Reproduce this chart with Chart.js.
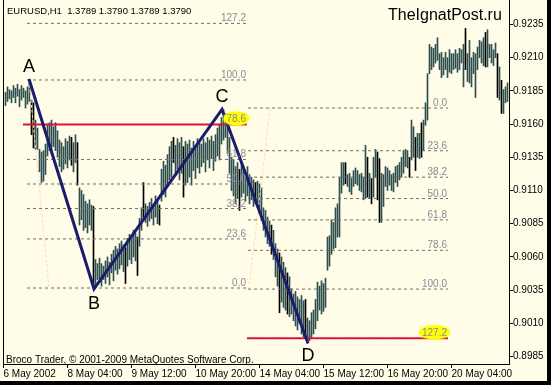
<!DOCTYPE html>
<html>
<head>
<meta charset="utf-8">
<script src="https://cdn.jsdelivr.net/npm/chart.js@4"></script>
<style>
  html, body { margin: 0; padding: 0; background: #000; }
  canvas { display: block; }
</style>
</head>
<body>
<canvas id="chart" width="547" height="381"></canvas>
<script>
;(function () {
    'use strict';

    // EURUSD H1 bars (index 0 = first bar on the left)
    var highs = [
        0.9184, 0.9188, 0.9186, 0.9185, 0.9189, 0.9187, 0.9190, 0.9186, 0.9189, 0.9187,
        0.9185, 0.9188, 0.9193, 0.9178, 0.9176, 0.9163, 0.9157, 0.9141, 0.9139, 0.9140,
        0.9145, 0.9160, 0.9161, 0.9163, 0.9158, 0.9161, 0.9155, 0.9148, 0.9146, 0.9143,
        0.9149, 0.9147, 0.9151, 0.9150, 0.9146, 0.9152, 0.9146, 0.9112, 0.9110, 0.9107,
        0.9102, 0.9100, 0.9103, 0.9099, 0.9098, 0.9058, 0.9055, 0.9059, 0.9055, 0.9053,
        0.9057, 0.9060, 0.9056, 0.9062, 0.9065, 0.9068, 0.9066, 0.9070, 0.9072, 0.9069,
        0.9067, 0.9074, 0.9077, 0.9075, 0.9080, 0.9078, 0.9075, 0.9089, 0.9097, 0.9116,
        0.9100, 0.9098, 0.9101, 0.9104, 0.9099, 0.9106, 0.9103, 0.9099, 0.9126, 0.9132,
        0.9129, 0.9137, 0.9143, 0.9147, 0.9150, 0.9144, 0.9149, 0.9146, 0.9150, 0.9143,
        0.9147, 0.9145, 0.9148, 0.9142, 0.9147, 0.9144, 0.9149, 0.9146, 0.9145, 0.9149,
        0.9146, 0.9150, 0.9148, 0.9151, 0.9147, 0.9152, 0.9157, 0.9160, 0.9165, 0.9171,
        0.9168, 0.9162, 0.9150, 0.9135, 0.9133, 0.9128, 0.9131, 0.9126, 0.9130, 0.9127,
        0.9124, 0.9128, 0.9122, 0.9120, 0.9118, 0.9116, 0.9117, 0.9115, 0.9112, 0.9097,
        0.9095, 0.9090, 0.9087, 0.9084, 0.9080, 0.9070, 0.9066, 0.9063, 0.9060, 0.9056,
        0.9052, 0.9048, 0.9045, 0.9036, 0.9032, 0.9034, 0.9030, 0.9028, 0.9031, 0.9027,
        0.9028, 0.9014, 0.9012, 0.9018, 0.9020, 0.9028, 0.9041, 0.9038, 0.9042, 0.9040,
        0.9044, 0.9075, 0.9076, 0.9088, 0.9086, 0.9097, 0.9100, 0.9120, 0.9131, 0.9131,
        0.9131, 0.9122, 0.9123, 0.9119, 0.9125, 0.9127, 0.9125, 0.9122, 0.9123, 0.9120,
        0.9144, 0.9135, 0.9123, 0.9119, 0.9135, 0.9141, 0.9139, 0.9134, 0.9123, 0.9122,
        0.9128, 0.9127, 0.9125, 0.9122, 0.9123, 0.9128, 0.9129, 0.9131, 0.9135, 0.9140,
        0.9141, 0.9140, 0.9135, 0.9163, 0.9158, 0.9150, 0.9153, 0.9153, 0.9161, 0.9163,
        0.9176, 0.9198, 0.9220, 0.9218, 0.9217, 0.9220, 0.9225, 0.9213, 0.9214, 0.9210,
        0.9214, 0.9210, 0.9216, 0.9213, 0.9213, 0.9216, 0.9213, 0.9217, 0.9216, 0.9220,
        0.9232, 0.9213, 0.9223, 0.9210, 0.9214, 0.9213, 0.9218, 0.9223, 0.9222, 0.9225,
        0.9229, 0.9231, 0.9220, 0.9220, 0.9216, 0.9221, 0.9213, 0.9203, 0.9193, 0.9186,
        0.9188, 0.9191
    ];
    var lows = [
        0.9174, 0.9177, 0.9179, 0.9176, 0.9180, 0.9176, 0.9181, 0.9173, 0.9178, 0.9180,
        0.9172, 0.9175, 0.9177, 0.9152, 0.9142, 0.9141, 0.9141, 0.9124, 0.9116, 0.9117,
        0.9122, 0.9136, 0.9140, 0.9138, 0.9143, 0.9140, 0.9135, 0.9128, 0.9124, 0.9126,
        0.9130, 0.9127, 0.9133, 0.9129, 0.9124, 0.9131, 0.9114, 0.9084, 0.9088, 0.9080,
        0.9082, 0.9078, 0.9084, 0.9080, 0.9037, 0.9039, 0.9043, 0.9041, 0.9038, 0.9043,
        0.9040, 0.9045, 0.9039, 0.9048, 0.9042, 0.9050, 0.9047, 0.9051, 0.9054, 0.9049,
        0.9040, 0.9053, 0.9058, 0.9055, 0.9060, 0.9057, 0.9046, 0.9068, 0.9080, 0.9090,
        0.9086, 0.9083, 0.9087, 0.9089, 0.9084, 0.9090, 0.9085, 0.9084, 0.9102, 0.9107,
        0.9105, 0.9114, 0.9118, 0.9120, 0.9131, 0.9121, 0.9126, 0.9118, 0.9123, 0.9105,
        0.9114, 0.9116, 0.9120, 0.9114, 0.9125, 0.9119, 0.9127, 0.9123, 0.9128, 0.9131,
        0.9124, 0.9133, 0.9127, 0.9134, 0.9125, 0.9132, 0.9136, 0.9133, 0.9145, 0.9148,
        0.9150, 0.9138, 0.9123, 0.9110, 0.9106, 0.9100, 0.9104, 0.9095, 0.9105, 0.9108,
        0.9102, 0.9106, 0.9100, 0.9103, 0.9098, 0.9100, 0.9097, 0.9093, 0.9092, 0.9080,
        0.9075, 0.9070, 0.9068, 0.9062, 0.9058, 0.9045, 0.9038, 0.9018, 0.9026, 0.9022,
        0.9020, 0.9017, 0.9015, 0.9017, 0.9012, 0.9008, 0.9005, 0.9010, 0.9002, 0.9000,
        0.8999, 0.8995, 0.8997, 0.8999, 0.9002, 0.9006, 0.9012, 0.9020, 0.9017, 0.9019,
        0.9022, 0.9050, 0.9053, 0.9062, 0.9066, 0.9067, 0.9075, 0.9075, 0.9108, 0.9114,
        0.9115, 0.9113, 0.9109, 0.9107, 0.9113, 0.9115, 0.9114, 0.9110, 0.9109, 0.9103,
        0.9104, 0.9105, 0.9104, 0.9100, 0.9105, 0.9120, 0.9103, 0.9086, 0.9086, 0.9098,
        0.9113, 0.9110, 0.9114, 0.9110, 0.9109, 0.9116, 0.9113, 0.9118, 0.9120, 0.9123,
        0.9128, 0.9127, 0.9120, 0.9133, 0.9135, 0.9125, 0.9135, 0.9134, 0.9135, 0.9140,
        0.9159, 0.9163, 0.9198, 0.9201, 0.9203, 0.9206, 0.9208, 0.9201, 0.9195, 0.9197,
        0.9201, 0.9195, 0.9199, 0.9198, 0.9201, 0.9202, 0.9199, 0.9201, 0.9206, 0.9188,
        0.9201, 0.9192, 0.9191, 0.9188, 0.9198, 0.9180, 0.9201, 0.9210, 0.9206, 0.9204,
        0.9203, 0.9203, 0.9210, 0.9206, 0.9204, 0.9210, 0.9180, 0.9178, 0.9168, 0.9168,
        0.9176, 0.9177
    ];
    // bars that closed lower (drawn black)
    var downBars = [13, 14, 33, 36, 44, 60, 66, 69, 77, 84, 89, 117, 125, 133, 137, 141,
        150, 170, 181, 183, 186, 187, 202, 205, 208, 230, 240, 246, 248];

    var xTickPos    = [-1, 31, 63, 95, 127, 159, 191, 223];
    var xTickLabels = ['6 May 2002', '8 May 04:00', '9 May 12:00', '10 May 20:00',
                       '14 May 04:00', '15 May 12:00', '16 May 20:00', '20 May 04:00'];
    var yTicks = [0.8985, 0.9010, 0.9035, 0.9060, 0.9085, 0.9110, 0.9135, 0.9160, 0.9185, 0.9210, 0.9235];

    // ABCD pattern points
    var abcdNames  = ['A', 'B', 'C', 'D'];
    var abcdIndex  = [11.75, 44.25, 108.25, 151.25];
    var abcdPrice  = [0.91939, 0.90360, 0.91710, 0.89951];

    // Fibonacci retracements: [start bar, end bar], [price at 0, price at 100]
    var fibLevels = [0, 23.6, 38.2, 50.0, 61.8, 78.6, 100.0, 127.2];
    var fib1Span  = [10.75, 120.75];
    var fib1Price = [0.90366, 0.91932];
    var fib1Trend = [11.75, 21.75];
    var fib2Span  = [121.25, 221.25];
    var fib2Price = [0.91721, 0.90358];
    var fib2Trend = [132.25, 121.75];

    // red horizontal lines: [start bar, end bar, price]
    var redLine1 = [8.75, 120.75, 0.91597];
    var redLine2 = [120.75, 221.25, 0.89987];

    var BG = '#FFFDE8';
    var FONT = '"Liberation Sans", Arial, sans-serif';

    function fibPrice(p, lvl) {
        return p[0] + (p[1] - p[0]) * lvl / 100;
    }

    function hline(span0, span1, price, color, width, dash, order) {
        return {
            type: 'line',
            data: [{x: span0, y: price}, {x: span1, y: price}],
            borderColor: color,
            borderWidth: width,
            borderDash: dash,
            pointRadius: 0,
            order: order
        };
    }

    var datasets = [{
        type: 'bar',
        data: highs.map(function (h, i) { return {x: i, y: [lows[i], h]}; }),
        backgroundColor: function (c) {
            return downBars.indexOf(c.dataIndex) >= 0 ? '#000000' : '#2F4F4F';
        },
        borderWidth: 0,
        barThickness: 1,
        grouped: false,
        order: 10
    }];

    fibLevels.forEach(function (lvl) {
        datasets.push(hline(fib1Span[0], fib1Span[1], fibPrice(fib1Price, lvl), '#6E6E6E', 1, [3, 3], 6));
        datasets.push(hline(fib2Span[0], fib2Span[1], fibPrice(fib2Price, lvl), '#6E6E6E', 1, [3, 3], 6));
    });

    datasets.push({
        type: 'line',
        data: [{x: fib1Trend[0], y: fib1Price[1]}, {x: fib1Trend[1], y: fib1Price[0]}],
        borderColor: '#FFD8B8', borderWidth: 1, borderDash: [3, 2], pointRadius: 0, order: 7
    });
    datasets.push({
        type: 'line',
        data: [{x: fib2Trend[0], y: fib2Price[0]}, {x: fib2Trend[1], y: fib2Price[1]}],
        borderColor: '#FFD8B8', borderWidth: 1, borderDash: [3, 2], pointRadius: 0, order: 7
    });

    datasets.push(hline(redLine1[0], redLine1[1], redLine1[2], '#DC143C', 2, [], 3));
    datasets.push(hline(redLine2[0], redLine2[1], redLine2[2], '#DC143C', 2, [], 3));

    datasets.push({
        type: 'line',
        data: abcdIndex.map(function (x, i) { return {x: x, y: abcdPrice[i]}; }),
        borderColor: '#1C1C6E',
        borderWidth: 3,
        pointRadius: 0,
        tension: 0,
        order: 1
    });

    var mtPlugin = {
        id: 'mt',
        beforeDraw: function (chart) {
            var ctx = chart.ctx;
            ctx.save();
            ctx.fillStyle = BG;
            ctx.fillRect(0, 0, chart.width, chart.height);
            ctx.strokeStyle = '#000';
            ctx.lineWidth = 1;
            ctx.beginPath();
            ctx.moveTo(3.5, 0);
            ctx.lineTo(3.5, chart.chartArea.bottom);
            ctx.stroke();
            ctx.restore();
        },
        afterDatasetsDraw: function (chart) {
            var ctx = chart.ctx, xs = chart.scales.x, ys = chart.scales.y;
            ctx.save();

            function fibLabels(span, prices, marked) {
                var px = xs.getPixelForValue(span[1]);
                ctx.font = '10px ' + FONT;
                ctx.textAlign = 'right';
                ctx.textBaseline = 'alphabetic';
                fibLevels.forEach(function (lvl) {
                    var py = ys.getPixelForValue(fibPrice(prices, lvl));
                    var txt = lvl.toFixed(1);
                    if (lvl === marked) {
                        var w = ctx.measureText(txt).width;
                        ctx.save();
                        ctx.fillStyle = '#FFFF00';
                        ctx.shadowColor = '#FFFF60';
                        ctx.shadowBlur = 3;
                        ctx.beginPath();
                        ctx.ellipse(px - w / 2 - 1, py - 6, w / 2 + 3, 7, 0, 0, Math.PI * 2);
                        ctx.fill();
                        ctx.restore();
                    }
                    ctx.fillStyle = '#8A8A98';
                    ctx.fillText(txt, px - 1, py - 2);
                });
            }
            fibLabels(fib1Span, fib1Price, 78.6);
            fibLabels(fib2Span, fib2Price, 127.2);

            ctx.fillStyle = '#000';
            ctx.font = '18px ' + FONT;
            ctx.textAlign = 'center';
            ctx.textBaseline = 'middle';
            var offs = [-12, 15, -12, 13];
            abcdNames.forEach(function (n, i) {
                ctx.fillText(n, xs.getPixelForValue(abcdIndex[i]), ys.getPixelForValue(abcdPrice[i]) + offs[i]);
            });

            ctx.textAlign = 'left';
            ctx.textBaseline = 'alphabetic';
            ctx.font = '9.5px ' + FONT;
            ctx.fillText('EURUSD,H1  1.3789 1.3790 1.3789 1.3790', 7, 14);
            ctx.font = '10px ' + FONT;
            ctx.fillText('Broco Trader, \u00A9 2001-2009 MetaQuotes Software Corp.', 6, 363);
            ctx.font = '16px ' + FONT;
            ctx.fillText('TheIgnatPost.ru', 388, 20);
            ctx.restore();
        }
    };

    new Chart(document.getElementById('chart'), {
        type: 'bar',
        data: {datasets: datasets},
        plugins: [mtPlugin],
        options: {
            responsive: false,
            animation: false,
            devicePixelRatio: 1,
            layout: {padding: {left: 3, top: 0, right: 0, bottom: 0}},
            plugins: {legend: {display: false}, tooltip: {enabled: false}},
            scales: {
                x: {
                    type: 'linear',
                    offset: false,
                    min: -1.25,
                    max: 251.75,
                    bounds: 'data',
                    afterBuildTicks: function (s) {
                        s.ticks = xTickPos.map(function (v) { return {value: v}; });
                    },
                    afterFit: function (s) {
                        s.height = 17;
                        s.paddingLeft = 0;
                        s.paddingRight = 0;
                    },
                    grid: {offset: false, drawOnChartArea: false, drawTicks: true, tickLength: 4, color: '#000'},
                    border: {display: true, color: '#000'},
                    ticks: {
                        autoSkip: false,
                        maxRotation: 0,
                        align: 'start',
                        padding: 0,
                        color: '#000',
                        font: {family: FONT, size: 10},
                        callback: function (v, i) { return xTickLabels[i]; }
                    }
                },
                y: {
                    type: 'linear',
                    position: 'right',
                    min: 0.89794,
                    max: 0.92534,
                    bounds: 'data',
                    afterBuildTicks: function (s) {
                        s.ticks = yTicks.map(function (v) { return {value: v}; });
                    },
                    afterFit: function (s) {
                        s.width = 38;
                        s.paddingTop = 0;
                        s.paddingBottom = 0;
                    },
                    grid: {drawOnChartArea: false, drawTicks: true, tickLength: 4, color: '#000'},
                    border: {display: true, color: '#000'},
                    ticks: {
                        padding: 0,
                        color: '#000',
                        font: {family: FONT, size: 10},
                        callback: function (v) { return v.toFixed(4); }
                    }
                }
            }
        }
    });
})();
</script>
</body>
</html>
